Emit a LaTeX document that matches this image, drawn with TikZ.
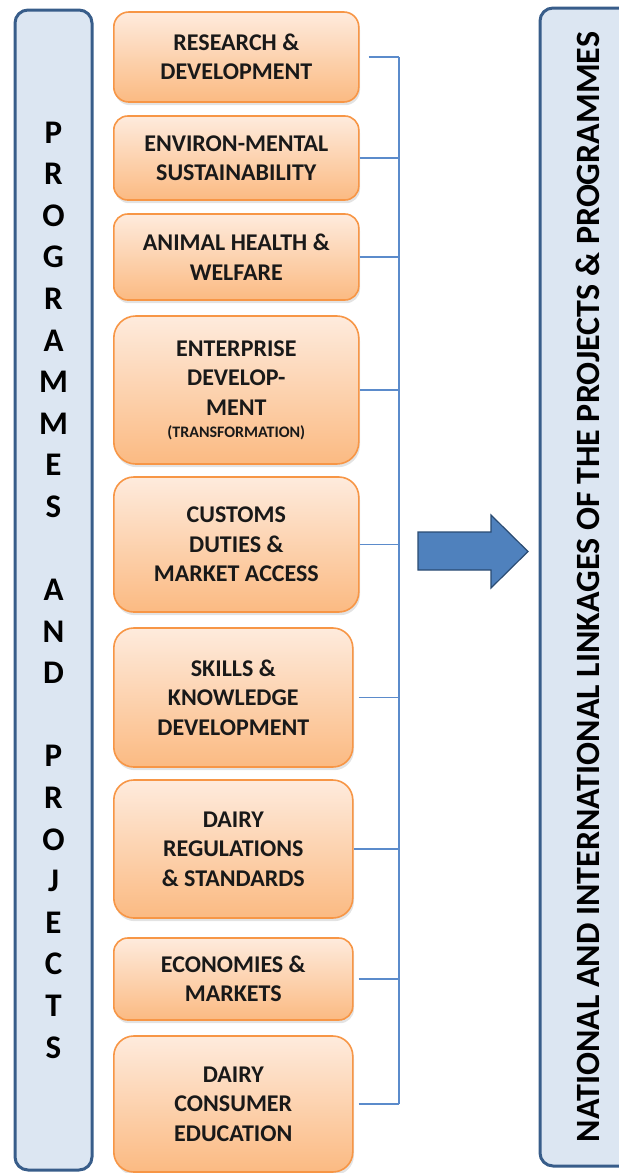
\documentclass[tikz,border=0pt]{standalone}
\usepackage{fontspec}
\setmainfont{Carlito}
\usetikzlibrary{positioning, shadows}

\definecolor{sidefill}{HTML}{DCE6F2}
\definecolor{sidedraw}{HTML}{385D8A}
\definecolor{boxtop}{HTML}{FEEBDD}
\definecolor{boxbot}{HTML}{FBBA82}
\definecolor{boxdraw}{HTML}{F79646}
\definecolor{linkblue}{HTML}{5B8BCB}
\definecolor{arrowfill}{HTML}{4F81BD}
\definecolor{arrowdraw}{HTML}{2A4B72}

\begin{document}
\begin{tikzpicture}[x=0.5pt, y=-0.5pt,
    % Styles
    sidebar/.style={draw=sidedraw, line width=1.5pt, fill=sidefill, rounded corners=6.5pt,
        align=center, font=\bfseries, inner sep=0pt},
    themebox/.style={draw=boxdraw, line width=0.8pt, top color=boxtop, bottom color=boxbot,
        anchor=west, align=center, inner sep=2pt, text=black!90,
        font=\fontsize{12}{14.75}\selectfont\bfseries,
        drop shadow={opacity=0.22, shadow xshift=0.6pt, shadow yshift=-1.6pt}},
    widebox/.style={themebox, minimum width=122.5pt},
    narrowbox/.style={themebox, minimum width=119.5pt},
    linkline/.style={draw=linkblue, line width=0.75pt},
    blockarrow/.style={draw=arrowdraw, line width=0.6pt, fill=arrowfill},
]
    \clip (0,0) rectangle (619,1173);

    % Left bar: programmes and projects
    \node[sidebar, minimum width=38.5pt, minimum height=580pt,
          font=\fontsize{16.5}{20.8}\selectfont\bfseries] (progs) at (53.5,590)
        {P\\R\\O\\G\\R\\A\\M\\M\\E\\S\\[20.8pt]A\\N\\D\\[20.8pt]P\\R\\O\\J\\E\\C\\T\\S};

    % Right bar: linkages (runs off the page)
    \node[sidebar, rotate=90, minimum width=579pt, minimum height=48pt,
          font=\fontsize{17}{20}\selectfont\bfseries] (links) at (588,587)
        {NATIONAL AND INTERNATIONAL LINKAGES OF THE PROJECTS \& PROGRAMMES};

    % Theme boxes
    \node[widebox, minimum height=45pt, rounded corners=7.5pt] (rd) at (113,57) {RESEARCH \&\\DEVELOPMENT};
    \node[widebox, minimum height=42pt, rounded corners=7pt] (env) at (113,158) {ENVIRON-MENTAL\\SUSTAINABILITY};
    \node[widebox, minimum height=43pt, rounded corners=7pt] (ahw) at (113,257) {ANIMAL HEALTH \&\\WELFARE};
    \node[widebox, minimum height=74pt, rounded corners=11pt] (ent) at (113,390)
        {ENTERPRISE\\DEVELOP-\\MENT\\[-3.75pt]{\fontsize{8}{11}\selectfont (TRANSFORMATION)}};
    \node[widebox, minimum height=67.5pt, rounded corners=10pt] (cda) at (113,544.5) {CUSTOMS\\DUTIES \&\\MARKET ACCESS};
    \node[narrowbox, minimum height=69.5pt, rounded corners=10pt] (skd) at (113,697.5) {SKILLS \&\\KNOWLEDGE\\DEVELOPMENT};
    \node[narrowbox, minimum height=69pt, rounded corners=10pt] (drs) at (113,849) {DAIRY\\REGULATIONS\\\& STANDARDS};
    \node[narrowbox, minimum height=41pt, rounded corners=7pt] (ecm) at (113,979) {ECONOMIES \&\\MARKETS};
    \node[narrowbox, minimum height=68pt, rounded corners=10pt] (dce) at (113,1104) {DAIRY\\CONSUMER\\EDUCATION};

    % Bracket joining the boxes
    \coordinate (bus) at (399,0);
    \draw[linkline] (rd.east -| bus) -- (dce.east -| bus);
    \draw[linkline] ([xshift=4.5pt]rd.east) -- (rd.east -| bus);
    \draw[linkline] (env.east) -- (env.east -| bus);
    \draw[linkline] (ahw.east) -- (ahw.east -| bus);
    \draw[linkline] (ent.east) -- (ent.east -| bus);
    \draw[linkline] (cda.east) -- (cda.east -| bus);
    \draw[linkline] ([xshift=2.5pt]skd.east) -- (skd.east -| bus);
    \draw[linkline] (drs.east) -- (drs.east -| bus);
    \draw[linkline] ([xshift=2.5pt]ecm.east) -- (ecm.east -| bus);
    \draw[linkline] ([xshift=2.5pt]dce.east) -- (dce.east -| bus);

    % Block arrow towards the linkages
    \draw[blockarrow] (418,532) -- (491,532) -- (491,515) -- (528,551.5)
        -- (491,588) -- (491,570) -- (418,570) -- cycle;

\end{tikzpicture}
\end{document}
